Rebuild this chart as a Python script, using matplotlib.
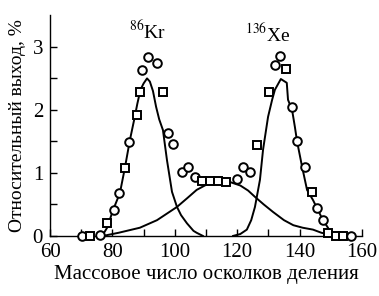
import matplotlib.pyplot as plt

plt.rcParams['font.family'] = ['Liberation Serif', 'DejaVu Serif']
plt.rcParams['mathtext.fontset'] = 'stix'

# experimental points (mass number, yield %), marker kind
mass = [70.3, 72.8, 76.0, 78.3, 80.4, 82.2, 84.0, 85.2, 87.9, 88.8,
        89.5, 91.4, 94.3, 96.2, 97.8, 99.5, 102.3, 104.2, 106.5, 108.7,
        111.3, 113.8, 116.5, 119.9, 121.9, 124.1, 126.3, 130.3, 132.1, 133.7,
        135.7, 137.6, 139.3, 141.7, 144.0, 145.7, 147.5, 149.1, 151.6, 154.0,
        156.4]
yld = [0.0, 0.0, 0.02, 0.2, 0.41, 0.68, 1.08, 1.49, 1.92, 2.29,
       2.63, 2.84, 2.74, 2.29, 1.63, 1.46, 1.02, 1.1, 0.94, 0.87,
       0.87, 0.87, 0.86, 0.9, 1.1, 1.02, 1.45, 2.29, 2.72, 2.85,
       2.65, 2.05, 1.5, 1.1, 0.7, 0.44, 0.25, 0.05, 0.0, 0.0,
       0.0]
kind = ['o', 's', 'o', 's', 'o', 'o', 's', 'o', 's', 's',
        'o', 'o', 'o', 's', 'o', 'o', 'o', 'o', 'o', 's',
        's', 's', 's', 'o', 'o', 'o', 's', 's', 'o', 'o',
        's', 'o', 'o', 'o', 's', 'o', 'o', 's', 's', 's',
        'o']

# light-fragment curve (Kr)
kr_a = [76.7, 78.3, 80.2, 82.4, 84.0, 85.6, 87.0, 88.0, 89.0, 90.0,
        91.1, 92.0, 93.0, 94.0, 95.0, 96.2, 97.5, 99.1, 100.7, 102.0,
        103.9, 106.0, 107.0, 109.0]
kr_y = [0.0, 0.13, 0.41, 0.68, 1.08, 1.52, 1.85, 2.1, 2.32, 2.42,
        2.5, 2.45, 2.3, 2.05, 1.85, 1.68, 1.2, 0.7, 0.46, 0.33,
        0.2, 0.08, 0.05, 0.0]

# symmetric-fission curve
sym_a = [77.0, 82.0, 88.8, 94.3, 100.7, 104.0, 107.0, 110.0, 113.0, 115.5,
         118.0, 121.0, 123.5, 125.7, 128.5, 131.5, 135.0, 138.0, 141.0, 144.3,
         147.0, 149.7]
sym_y = [0.0, 0.05, 0.13, 0.25, 0.46, 0.6, 0.73, 0.81, 0.85, 0.86,
         0.85, 0.8, 0.72, 0.62, 0.5, 0.38, 0.25, 0.17, 0.13, 0.1,
         0.05, 0.02]

# heavy-fragment curve (Xe)
xe_a = [118.7, 121.0, 123.1, 124.5, 125.7, 127.3, 128.3, 129.9, 131.2, 132.1,
        134.0, 135.9, 136.3, 137.6, 138.5, 139.2, 140.8, 142.4, 144.3, 145.9,
        147.5, 149.1, 150.4]
xe_y = [0.0, 0.03, 0.1, 0.25, 0.46, 0.89, 1.37, 1.89, 2.16, 2.32,
        2.49, 2.43, 2.16, 2.0, 1.73, 1.5, 1.1, 0.73, 0.57, 0.41,
        0.25, 0.13, 0.0]

fig = plt.figure(figsize=(3.79, 2.96), dpi=100)
ax = fig.add_axes([0.132, 0.203, 0.823, 0.745])

ax.plot(kr_a, kr_y, color='black', lw=1.4)
ax.plot(sym_a, sym_y, color='black', lw=1.4)
ax.plot(xe_a, xe_y, color='black', lw=1.4)

for a, y, m in zip(mass, yld, kind):
    ax.plot(a, y, marker=m, ms=6.2 if m == 'o' else 5.8, mfc='white', mec='black',
            mew=1.4, ls='none', clip_on=False, zorder=3)

ax.text(91.3, 3.24, r'$^{86}$Kr', ha='center', va='center', fontsize=14)
ax.text(129.8, 3.2, r'$^{136}$Xe', ha='center', va='center', fontsize=14)

ax.set_xlim(60, 160)
ax.set_ylim(0, 3.5)
ax.set_xticks([60, 70, 80, 90, 100, 110, 120, 130, 140, 150, 160])
ax.set_xticklabels(['60', '', '80', '', '100', '', '120', '', '140', '', '160'])
ax.set_yticks([0, 0.5, 1, 1.5, 2, 2.5, 3])
ax.set_yticklabels(['0', '', '1', '', '2', '', '3'])
ax.tick_params(direction='in', length=5, width=1, labelsize=15, pad=5)
ax.spines['top'].set_visible(False)
ax.spines['right'].set_visible(False)
ax.spines['left'].set_linewidth(1)
ax.spines['bottom'].set_linewidth(1)

ax.set_xlabel('Массовое число осколков деления', fontsize=15, labelpad=2)
ax.set_ylabel('Относительный выход, %', fontsize=14, labelpad=5)

fig.savefig('out.png', dpi=100)
